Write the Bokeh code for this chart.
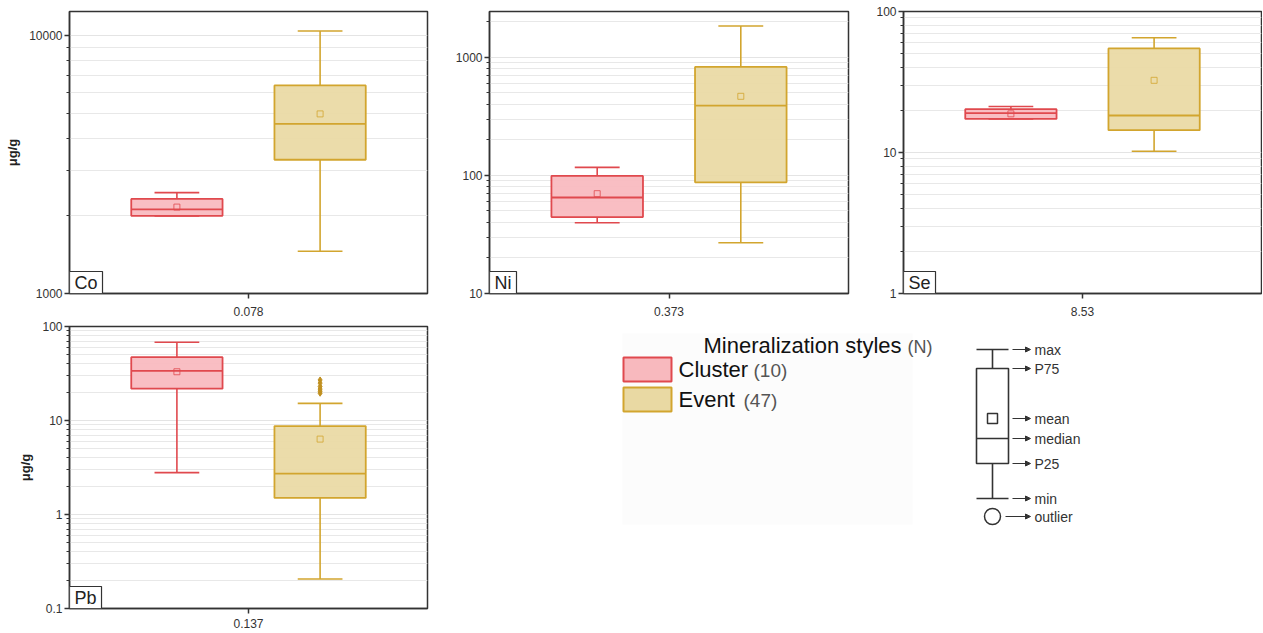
import math
from bokeh.plotting import figure
from bokeh.models import Range1d, FixedTicker, Label, Arrow, NormalHead, CustomJSTickFormatter
from bokeh.layouts import column, row
from bokeh.embed import file_html
from bokeh.resources import INLINE
from bokeh.core.properties import value

# ---------------- data ----------------
elements = ["Co", "Ni", "Se", "Pb"]
p_labels = ["0.078", "0.373", "8.53", "0.137"]
y_lo = [1000, 10, 1, 0.1]
y_hi = [12400, 2440, 100, 100]
show_ylabel = [True, False, False, True]

groups = ["Cluster", "Event"]
group_n = ["(10)", "(47)"]
group_fill = ["#f8b9be", "#e9d9a3"]
group_line = ["#e0494e", "#d2a52e"]

cl_min = [2000, 39.7, 17.3, 2.79]
cl_q1 = [2000, 44.4, 17.3, 21.8]
cl_med = [2120, 65, 19.0, 33.8]
cl_q3 = [2327, 99, 20.3, 47.2]
cl_max = [2462, 117, 21.2, 68]
cl_mean = [2163, 70, 18.8, 33]

ev_min = [1459, 26.9, 10.2, 0.206]
ev_q1 = [3300, 87.3, 14.4, 1.50]
ev_med = [4550, 389, 18.3, 2.72]
ev_q3 = [6410, 828, 54.7, 8.73]
ev_max = [10420, 1840, 65.1, 15.2]
ev_mean = [4970, 467, 32.5, 6.34]

pb_event_outliers = [19.5, 20.5, 21.6, 23.0, 25.0, 27.0]

key_labels = ["max", "P75", "mean", "median", "P25", "min", "outlier"]

FONT = "Liberation Sans"
AX = "#333333"

stats = [
    (cl_min, cl_q1, cl_med, cl_q3, cl_max, cl_mean),
    (ev_min, ev_q1, ev_med, ev_q3, ev_max, ev_mean),
]
group_x = [0.3, 0.7]
BOX_W = 0.255
CAP_W = 0.125


def make_panel(i, width, height, bl, br, bt, bb, xstand):
    lo, hi = y_lo[i], y_hi[i]
    p = figure(width=width, height=height, x_range=Range1d(0, 1),
               y_range=Range1d(lo, hi), y_axis_type="log",
               toolbar_location=None, output_backend="svg",
               min_border_left=bl, min_border_right=br,
               min_border_top=bt, min_border_bottom=bb)
    p.background_fill_color = "white"
    p.border_fill_color = "white"
    p.outline_line_color = AX
    p.outline_line_width = 1.5
    p.outline_line_alpha = 1

    k0 = int(math.floor(math.log10(lo)))
    k1 = int(math.ceil(math.log10(hi)))
    majors = [10.0 ** k if k < 0 else 10 ** k for k in range(k0, k1 + 1)
              if lo * 0.999 <= 10.0 ** k <= hi * 1.001]
    minors = []
    for k in range(k0, k1 + 1):
        for m in range(2, 10):
            v = m * 10.0 ** k
            if lo < v < hi:
                minors.append(v)
    yt = FixedTicker(ticks=majors, minor_ticks=minors)
    p.yaxis.ticker = yt
    p.yaxis.formatter = CustomJSTickFormatter(
        code="return tick >= 1 ? Math.round(tick).toString() : parseFloat(tick.toPrecision(3)).toString();")
    p.ygrid.ticker = yt
    p.ygrid.grid_line_color = "#e4e4e4"
    p.ygrid.minor_grid_line_color = "#e8e8e8"
    p.ygrid.grid_line_width = 1
    p.xgrid.visible = False

    p.xaxis.ticker = FixedTicker(ticks=[0.5])
    p.xaxis.major_label_overrides = {0.5: p_labels[i]}

    for ax in (p.xaxis, p.yaxis):
        ax.axis_line_color = AX
        ax.axis_line_width = 1.5
        ax.major_tick_line_color = AX
        ax.major_tick_line_width = 1.5
        ax.major_tick_out = 5
        ax.major_tick_in = 0
        ax.minor_tick_line_color = AX
        ax.minor_tick_out = 3
        ax.minor_tick_in = 0
        ax.major_label_text_font = FONT
        ax.major_label_text_font_size = "12px"
        ax.major_label_text_color = AX
        ax.major_label_standoff = 2
    p.xaxis.major_label_standoff = xstand
    if show_ylabel[i]:
        p.yaxis.axis_label = "μg/g"
        p.yaxis.axis_label_text_font = FONT
        p.yaxis.axis_label_text_font_size = "13px"
        p.yaxis.axis_label_text_font_style = "bold"
        p.yaxis.axis_label_text_color = "#222222"
        p.yaxis.axis_label_standoff = 6

    for g in range(2):
        mn, q1, md, q3, mx, me = (s[i] for s in stats[g])
        x = group_x[g]
        fc, lc = group_fill[g], group_line[g]
        p.segment(x0=[x, x], y0=[q3, mn], x1=[x, x], y1=[mx, q1], line_color=lc, line_width=1.6)
        p.segment(x0=[x - CAP_W / 2] * 2, y0=[mx, mn], x1=[x + CAP_W / 2] * 2, y1=[mx, mn],
                  line_color=lc, line_width=1.6)
        p.vbar(x=[x], width=BOX_W, top=[q3], bottom=[q1], fill_color=fc, fill_alpha=0.92,
               line_color=lc, line_width=1.8)
        p.segment(x0=[x - BOX_W / 2], y0=[md], x1=[x + BOX_W / 2], y1=[md], line_color=lc, line_width=1.8)
        p.scatter(x=[x], y=[me], marker="square", size=6, fill_color=None, line_color=lc,
                  line_alpha=0.8, line_width=1)
    if elements[i] == "Pb":
        p.scatter(x=[group_x[1]] * len(pb_event_outliers), y=pb_event_outliers, marker="diamond",
                  size=6, fill_color="#c09020", line_color="#c09020")

    p.add_layout(Label(x=0, y=lo, text=elements[i], text_font=FONT, text_font_size="18px",
                       text_color="#222222", text_align="left", text_baseline="bottom",
                       border_line_color=AX, border_line_width=1.2, background_fill_color="white",
                       padding=(5, 1)))
    return p


co = make_panel(0, 440, 318, 69, 13, 11, 25, 8)
ni = make_panel(1, 420, 318, 49, 12, 11, 25, 8)
se = make_panel(2, 402, 318, 43, 1, 11, 25, 8)
pb = make_panel(3, 440, 314, 69, 13, 8, 24, 5)

# ---------------- legend and key canvas (page-pixel coordinates) ----------------
# frame aligned with the Pb panel frame: page y 326..608
c = figure(width=822, height=314, x_range=Range1d(440, 1262), y_range=Range1d(608, 326),
           toolbar_location=None, output_backend="svg", x_axis_location=None,
           y_axis_location=None, min_border_left=0, min_border_right=0,
           min_border_top=8, min_border_bottom=24)
c.grid.visible = False
c.outline_line_color = None
c.background_fill_color = "white"
c.border_fill_color = "white"

c.quad(left=[622], right=[912], top=[333], bottom=[524], fill_color="#fcfcfc", line_color=None)
c.text(x=[703], y=[345], text=["Mineralization styles"], text_font=value(FONT),
       text_font_size="22px", text_color="#111111", text_baseline="middle")
c.text(x=[907], y=[346], text=["(N)"], text_font=value(FONT),
       text_font_size="18px", text_color="#555555", text_baseline="middle")
leg_top = [357, 387]
for g in range(2):
    c.quad(left=[623], right=[671], top=[leg_top[g]], bottom=[leg_top[g] + 24],
           fill_color=group_fill[g], line_color=group_line[g], line_width=2)
c.text(x=[678, 678], y=[369, 399], text=groups, text_font=value(FONT), text_font_size="22px",
       text_color="#111111", text_baseline="middle")
c.text(x=[753, 743], y=[370, 400], text=group_n, text_font=value(FONT), text_font_size="19px",
       text_color="#555555", text_baseline="middle")

# key schematic
key_y = [349, 368, 418, 438, 463, 498, 516]
kx, kl, kr = 992, 976, 1008
c.segment(x0=[kl, kx, kx, kl, kl], y0=[349, 349, 463, 498, 438],
          x1=[kr, kx, kx, kr, kr], y1=[349, 368, 498, 498, 438], line_color=AX, line_width=1.6)
c.quad(left=[kl], right=[kr], top=[368], bottom=[463], fill_color=None, line_color=AX, line_width=1.6)
c.scatter(x=[kx], y=[418], marker="square", size=10, fill_color=None, line_color=AX, line_width=1.5)
c.scatter(x=[kx], y=[516], marker="circle", size=16, fill_color=None, line_color=AX, line_width=1.5)
for j, yy in enumerate(key_y):
    xs = 1005 if key_labels[j] == "outlier" else 1012
    c.add_layout(Arrow(x_start=xs, y_start=yy, x_end=1030, y_end=yy, line_color=AX, line_width=1,
                       end=NormalHead(size=5, fill_color=AX, line_color=AX)))
c.text(x=[1034] * len(key_labels), y=key_y, text=key_labels, text_font=value(FONT),
       text_font_size="14px", text_color="#333333", text_baseline="middle")

layout = column(row(co, ni, se), row(pb, c))
open("out.html", "w").write(file_html(layout, INLINE))
